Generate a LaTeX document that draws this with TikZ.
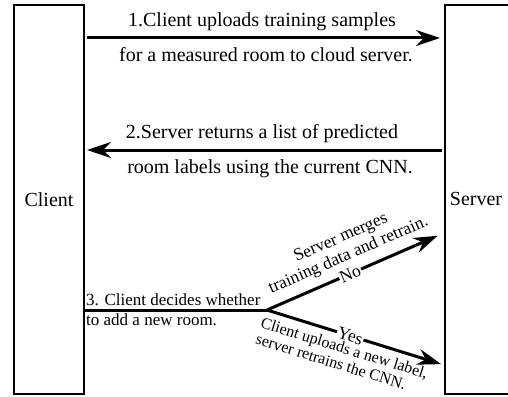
\documentclass[tikz,border=0pt]{standalone}
\usepackage{fontspec}
\setmainfont{Liberation Serif}
\usetikzlibrary{arrows.meta}
\begin{document}
\begin{tikzpicture}[x=1pt,y=-1pt,
  box/.style={draw, line width=2pt, inner sep=0pt},
  arr/.style={line width=3pt, -{Stealth[length=24pt,width=16pt,inset=8pt]}},
  plainline/.style={line width=3pt},
  big/.style={font=\fontsize{20}{22}\selectfont, inner sep=0pt},
  mid/.style={font=\fontsize{17}{19}\selectfont, inner sep=0pt},
  branch/.style={font=\fontsize{17.5}{19}\selectfont, inner sep=1pt, align=center, sloped},
  branchsmall/.style={font=\fontsize{16}{17}\selectfont, inner sep=1pt, align=left, sloped}]
\useasboundingbox (0,0) rectangle (508,396);
\clip (0,0) rectangle (508,396);
\node[box, minimum width=70pt, minimum height=389pt, anchor=north west] (client) at (13,4) {};
\node[big] (clientlabel) at (client.center) {Client};
\node[box, minimum width=100pt, minimum height=389pt, anchor=north west] (server) at (444,4) {};
\node[big] (serverlabel) at (476,199) {Server};
% step 1
\draw[arr, shorten <=2pt, shorten >=4pt] (client.east |- 0,38) -- (server.west |- 0,38);
\node[big, anchor=base] (t1a) at (262,27) {1.Client uploads training samples};
\node[big, anchor=base] (t1b) at (266,62) {for a measured room to cloud server.};
% step 2
\draw[arr, shorten <=2pt, shorten >=2pt] (server.west |- 0,150) -- (client.east |- 0,150);
\node[big, anchor=base] (t2a) at (262,138) {2.Server returns a list of predicted};
\node[big, anchor=base] (t2b) at (270,173) {room labels using the current CNN.};
% step 3
\coordinate (br) at (267,310);
\draw[plainline] (client.east |- br) -- (br);
\node[mid, anchor=base west] (t3a) at (86,305) {3. Client decides whether};
\node[mid, anchor=base west] (t3b) at (86,325) {to add a new room.};
\draw[arr, shorten >=7pt] (br) -- node[branch, pos=0.47, fill=white] (no) {No}
  node[branch, pos=0.5, above, yshift=7pt] (notext) {Server merges\\training data and retrain.}
  (server.west |- 0,233);
\draw[arr, shorten >=3pt] (br) -- node[branch, pos=0.47, fill=white] (yes) {Yes}
  node[branchsmall, pos=0.46, below, yshift=-5pt] (yestext) {Client uploads a new label,\\server retrains the CNN.}
  (server.west |- 0,365);
\end{tikzpicture}
\end{document}
